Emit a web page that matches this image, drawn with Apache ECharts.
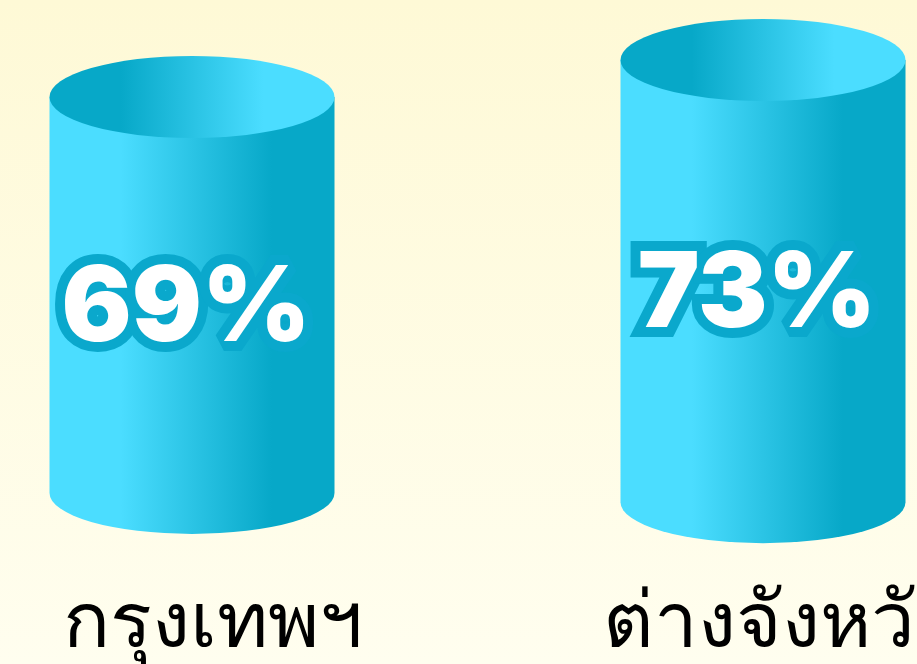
<!DOCTYPE html>
<html>
<head>
<meta charset="utf-8">
<script src="https://cdn.jsdelivr.net/npm/echarts@6/dist/echarts.min.js"></script>
<style>
  html, body { margin: 0; padding: 0; }
  #main { width: 917px; height: 664px; }
</style>
</head>
<body>
<div id="main"></div>
<script>
// data
const categories = ['กรุงเทพฯ', 'ต่างจังหวัด'];
const percents = [69, 73];
const baseValues = [26.2, 25.2];   // where each cylinder's bottom sits on the value axis

const LIGHT = '#4BDDFF';
const DARK = '#07A8C8';

const chart = echarts.init(document.getElementById('main'));

function renderCylinder(params, api) {
    const idx = api.value(0);
    const top = api.coord([idx, api.value(1)]);
    const bot = api.coord([idx, api.value(2)]);
    const rx = 142.5, ry = 41;
    const cx = top[0], ty = top[1], by = bot[1];

    const bodyPath = `M${cx - rx},${ty} L${cx - rx},${by} A${rx},${ry} 0 0 0 ${cx + rx},${by} L${cx + rx},${ty} Z`;
    const capPath = `M${cx - rx},${ty} A${rx},${ry} 0 0 1 ${cx + rx},${ty} A${rx},${ry} 0 0 1 ${cx - rx},${ty} Z`;

    return {
        type: 'group',
        children: [
            {
                type: 'path',
                shape: { pathData: bodyPath },
                style: {
                    fill: new echarts.graphic.LinearGradient(0, 0, 1, 0, [
                        { offset: 0, color: LIGHT },
                        { offset: 0.25, color: LIGHT },
                        { offset: 0.78, color: DARK },
                        { offset: 1, color: DARK }
                    ])
                }
            },
            {
                type: 'path',
                shape: { pathData: capPath },
                style: {
                    fill: new echarts.graphic.LinearGradient(0, 0, 1, 0, [
                        { offset: 0, color: DARK },
                        { offset: 0.25, color: DARK },
                        { offset: 0.75, color: LIGHT },
                        { offset: 1, color: LIGHT }
                    ])
                }
            },
            {
                type: 'text',
                style: {
                    text: api.value(1) + '%',
                    x: cx - 6,
                    y: (ty + by) / 2 + 15,
                    align: 'center',
                    verticalAlign: 'middle',
                    fill: '#ffffff',
                    stroke: '#0AA8CC',
                    lineWidth: 20,
                    font: '900 104px Inter'
                }
            }
        ]
    };
}

const option = {
    backgroundColor: new echarts.graphic.LinearGradient(0, 0, 0, 1, [
        { offset: 0, color: '#FEF9D6' },
        { offset: 1, color: '#FFFEEF' }
    ]),
    grid: {
        left: 192,
        right: 154,
        top: 4.5,
        bottom: 160,
        containLabel: false,
        outerBoundsMode: 'none'
    },
    xAxis: {
        type: 'category',
        data: categories,
        boundaryGap: false,
        axisLine: { show: false },
        axisTick: { show: false },
        axisLabel: {
            interval: 0,
            color: '#000',
            fontSize: 78,
            margin: 82,
            padding: [0, 0, 0, 42],
            hideOverlap: false
        }
    },
    yAxis: {
        type: 'value',
        min: 25,
        max: 79,
        show: false
    },
    series: [
        {
            type: 'custom',
            renderItem: renderCylinder,
            data: categories.map((c, i) => [i, percents[i], baseValues[i]])
        }
    ]
};

chart.setOption(option);
</script>
</body>
</html>
